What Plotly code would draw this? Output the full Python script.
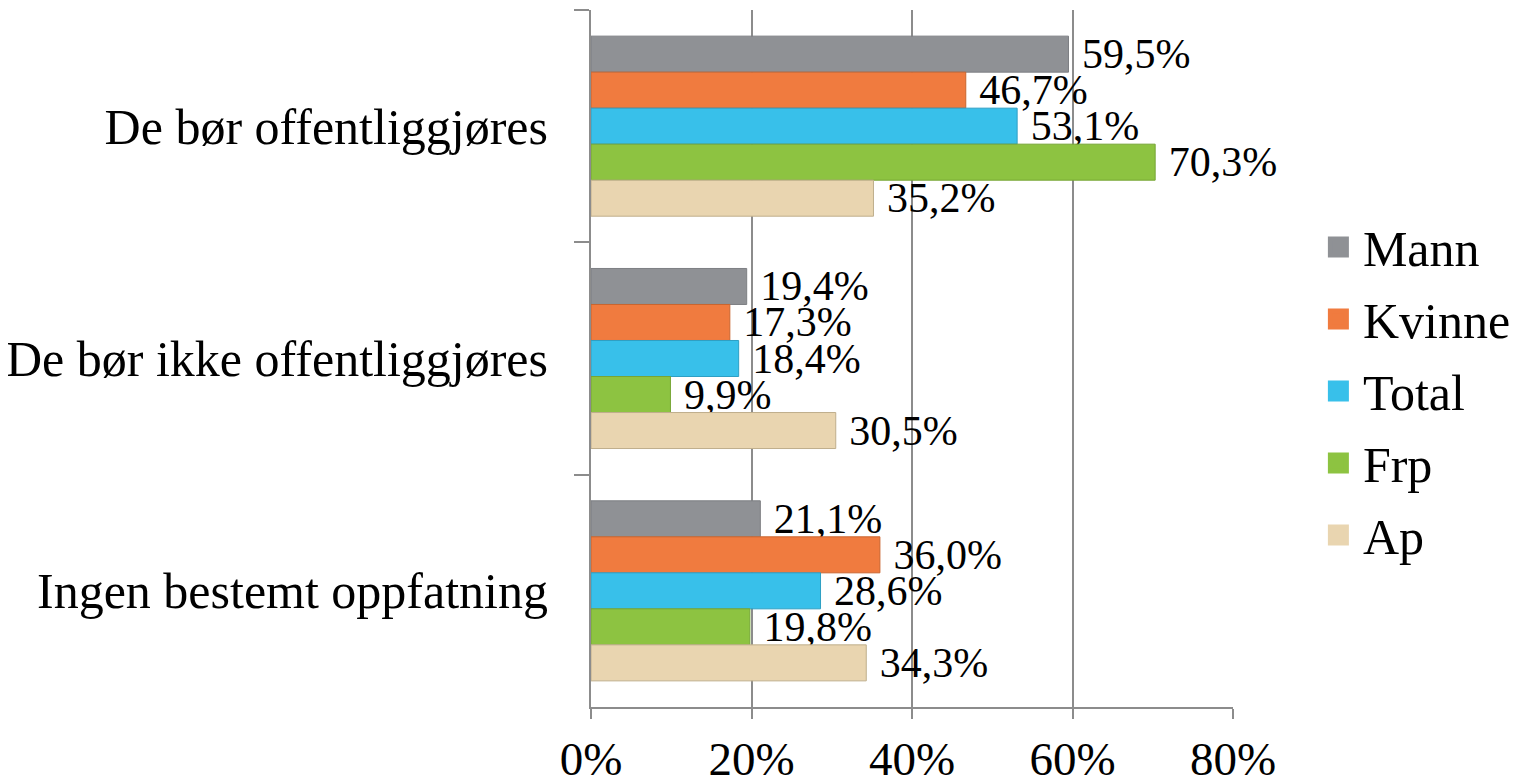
import plotly.graph_objects as go

categories = ["De bør offentliggjøres", "De bør ikke offentliggjøres", "Ingen bestemt oppfatning"]
series_names = ["Mann", "Kvinne", "Total", "Frp", "Ap"]
mann = [59.5, 19.4, 21.1]
kvinne = [46.7, 17.3, 36.0]
total = [53.1, 18.4, 28.6]
frp = [70.3, 9.9, 19.8]
ap = [35.2, 30.5, 34.3]
x_ticks = [0, 20, 40, 60, 80]
x_tick_labels = ["0%", "20%", "40%", "60%", "80%"]

values = [mann, kvinne, total, frp, ap]
colors = ["#8f9195", "#f07b3f", "#38c0ea", "#8dc341", "#e9d5b0"]
outlines = ["#7d7f83", "#c9652f", "#2e9fc4", "#76a535", "#bfae8c"]

FONT = "Liberation Serif"

fig = go.Figure()
for name, vals, col, oc in zip(series_names, values, colors, outlines):
    fig.add_trace(go.Bar(
        name=name,
        y=categories,
        x=vals,
        orientation="h",
        marker=dict(color=col, line=dict(color=oc, width=1)),
        text=["\u00a0" + f"{v:.1f}".replace(".", ",") + "%" for v in vals],
        textposition="outside",
        constraintext="none",
        textfont=dict(family=FONT, size=42, color="#000000"),
        cliponaxis=False,
        showlegend=False,
        hoverinfo="skip",
    ))

# legend entries
for name, col in zip(series_names, colors):
    fig.add_trace(go.Scatter(
        x=[None], y=[None], mode="markers", name=name,
        legendgroup=name,
        marker=dict(symbol="square", size=16, color=col,
                    line=dict(color=col, width=11)),
        showlegend=True,
    ))

fig.update_layout(
    width=1518, height=782,
    margin=dict(l=583, r=293, t=2, b=83, autoexpand=False),
    paper_bgcolor="white", plot_bgcolor="white",
    barmode="group", bargap=0.225, bargroupgap=0,
    uniformtext=dict(mode=False),
    font=dict(family=FONT, size=48, color="#000000"),
    legend=dict(
        x=1.126, y=0.716, xanchor="left", yanchor="top",
        font=dict(family=FONT, size=50, color="#000000"),
        bgcolor="rgba(0,0,0,0)", itemwidth=39, tracegroupgap=4,
    ),
    showlegend=True,
)

fig.update_xaxes(
    range=[0, 80], tickvals=x_ticks, ticktext=x_tick_labels,
    showgrid=True, gridcolor="#8c8c8c", gridwidth=2,
    showline=True, linecolor="#8c8c8c", linewidth=2,
    ticks="outside", ticklen=10, tickcolor="#8c8c8c", tickwidth=2,
    tickfont=dict(family=FONT, size=47, color="#000000"),
    ticklabelstandoff=0,
    zeroline=False, automargin=False,
)
fig.update_yaxes(
    autorange="reversed", type="category",
    showgrid=False, showline=True, linecolor="#8c8c8c", linewidth=2,
    ticks="outside", ticklen=15, tickcolor="#8c8c8c", tickwidth=2,
    tickson="boundaries",
    tickfont=dict(family=FONT, size=50, color="#000000"),
    ticklabelstandoff=31, automargin=False,
)

fig.write_html("out.html")
